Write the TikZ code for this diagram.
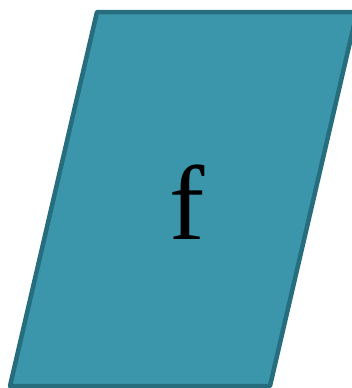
\documentclass[tikz,border=0pt]{standalone}
\usepackage{fontspec}
\setmainfont{Liberation Serif}
\definecolor{pfill}{RGB}{59,150,171}
\definecolor{pdraw}{RGB}{38,110,126}
\tikzset{para/.style={fill=pfill,draw=pdraw,line width=4.5pt,line join=round}}
\begin{document}
\begin{tikzpicture}[x=1pt,y=-1pt]
\useasboundingbox (0,0) rectangle (352,388);
\clip (0,0) rectangle (352,388);
\draw[para] (97,12) -- (357,12) -- (270,386) -- (10,386) -- cycle;
\node[font=\fontsize{106}{110}\selectfont,inner sep=0pt] (f) at (187,202) {f};
\end{tikzpicture}
\end{document}
